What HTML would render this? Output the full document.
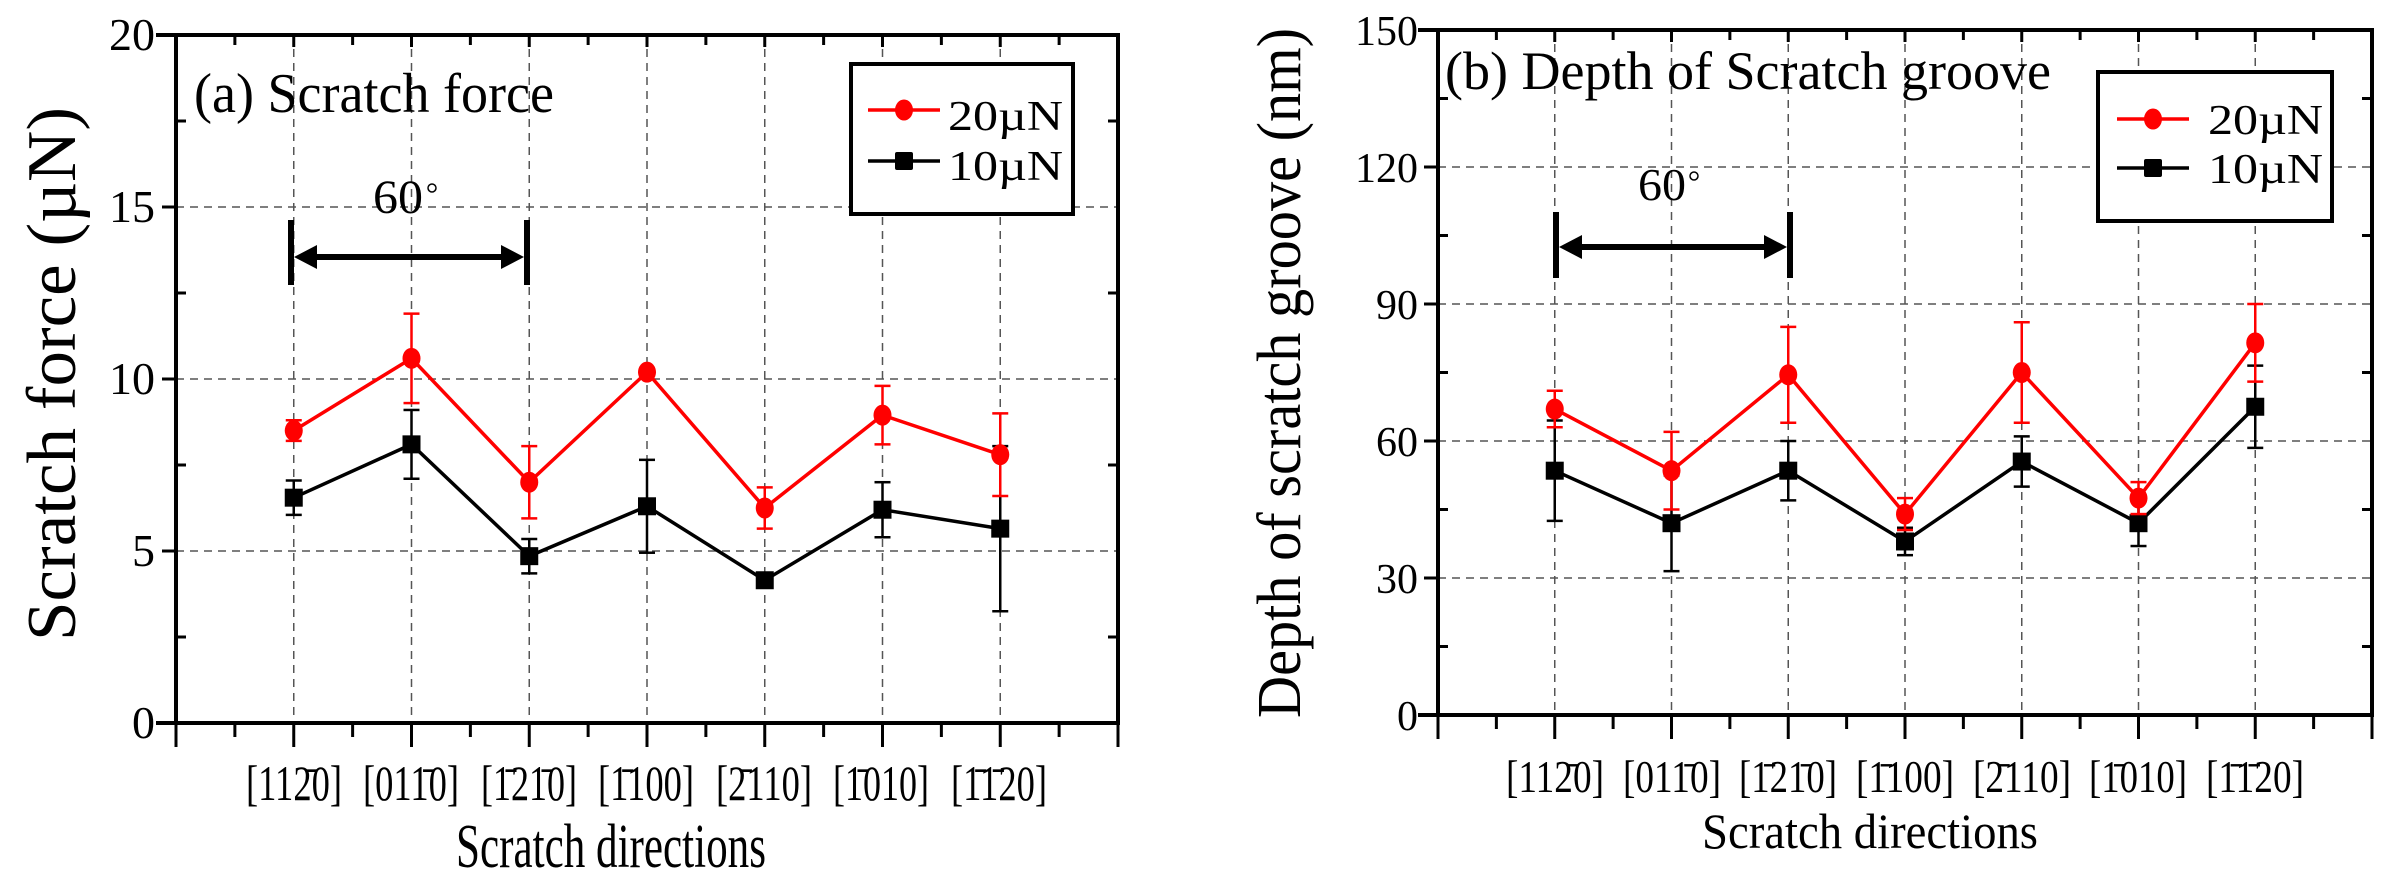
<!DOCTYPE html>
<html><head><meta charset="utf-8"><style>
html,body{margin:0;padding:0;background:#fff}
svg{display:block}
text{font-family:"Liberation Serif",serif;fill:#000}
</style></head><body>
<svg id="s" width="2393" height="887" viewBox="0 0 2393 887" xmlns="http://www.w3.org/2000/svg">
<g id="g"></g>
<!-- Left panel texts -->
<text x="194" y="112" font-size="56" textLength="360" lengthAdjust="spacingAndGlyphs">(a) Scratch force</text>
<text x="373" y="213" font-size="48" textLength="50" lengthAdjust="spacingAndGlyphs">60</text><circle cx="432" cy="188" r="4" fill="none" stroke="#000" stroke-width="1.5"/>
<g font-size="46" text-anchor="end">
<text x="155" y="50">20</text><text x="155" y="222">15</text><text x="155" y="394">10</text><text x="155" y="566">5</text><text x="155" y="738">0</text>
</g>
<text transform="translate(75,374) rotate(-90)" font-size="70" text-anchor="middle" textLength="534" lengthAdjust="spacingAndGlyphs">Scratch force (µN)</text>
<text x="611" y="867" font-size="62" text-anchor="middle" textLength="310" lengthAdjust="spacingAndGlyphs">Scratch directions</text>
<g font-size="50" text-anchor="middle">
<text x="294" y="800" textLength="96" lengthAdjust="spacingAndGlyphs">[112̄0]</text>
<text x="411" y="800" textLength="96" lengthAdjust="spacingAndGlyphs">[011̄0]</text>
<text x="529" y="800" textLength="96" lengthAdjust="spacingAndGlyphs">[1̄21̄0]</text>
<text x="646" y="800" textLength="96" lengthAdjust="spacingAndGlyphs">[1̄100]</text>
<text x="764" y="800" textLength="96" lengthAdjust="spacingAndGlyphs">[2̄110]</text>
<text x="881" y="800" textLength="96" lengthAdjust="spacingAndGlyphs">[1̄010]</text>
<text x="999" y="800" textLength="96" lengthAdjust="spacingAndGlyphs">[1̄1̄20]</text>
</g>
<text x="948" y="130" font-size="42" textLength="115" lengthAdjust="spacingAndGlyphs">20µN</text>
<text x="948" y="180" font-size="42" textLength="115" lengthAdjust="spacingAndGlyphs">10µN</text>
<!-- Right panel texts -->
<text x="1445" y="89" font-size="54" textLength="606" lengthAdjust="spacingAndGlyphs">(b) Depth of Scratch groove</text>
<text x="1638" y="200" font-size="46" textLength="48" lengthAdjust="spacingAndGlyphs">60</text><circle cx="1694" cy="176" r="4" fill="none" stroke="#000" stroke-width="1.5"/>
<g font-size="42" text-anchor="end">
<text x="1418" y="45">150</text><text x="1418" y="182">120</text><text x="1418" y="319">90</text><text x="1418" y="456">60</text><text x="1418" y="593">30</text><text x="1418" y="730">0</text>
</g>
<text transform="translate(1300,373) rotate(-90)" font-size="62" text-anchor="middle" textLength="690" lengthAdjust="spacingAndGlyphs">Depth of scratch groove (nm)</text>
<text x="1870" y="848" font-size="50" text-anchor="middle" textLength="336" lengthAdjust="spacingAndGlyphs">Scratch directions</text>
<g font-size="46" text-anchor="middle">
<text x="1555" y="792" textLength="98" lengthAdjust="spacingAndGlyphs">[112̄0]</text>
<text x="1672" y="792" textLength="98" lengthAdjust="spacingAndGlyphs">[011̄0]</text>
<text x="1788" y="792" textLength="98" lengthAdjust="spacingAndGlyphs">[1̄21̄0]</text>
<text x="1905" y="792" textLength="98" lengthAdjust="spacingAndGlyphs">[1̄100]</text>
<text x="2022" y="792" textLength="98" lengthAdjust="spacingAndGlyphs">[2̄110]</text>
<text x="2138" y="792" textLength="98" lengthAdjust="spacingAndGlyphs">[1̄010]</text>
<text x="2255" y="792" textLength="98" lengthAdjust="spacingAndGlyphs">[1̄1̄20]</text>
</g>
<text x="2208" y="134" font-size="42" textLength="115" lengthAdjust="spacingAndGlyphs">20µN</text>
<text x="2208" y="183" font-size="42" textLength="115" lengthAdjust="spacingAndGlyphs">10µN</text>
</svg>
<script>
const NS="http://www.w3.org/2000/svg",G=document.getElementById('g');
function el(t,a){const e=document.createElementNS(NS,t);for(const k in a)e.setAttribute(k,a[k]);G.appendChild(e);return e;}
function ln(x1,y1,x2,y2,c,w,d){const a={x1,y1,x2,y2,stroke:c,'stroke-width':w};if(d)a['stroke-dasharray']=d;el('line',a);}
function panel(P){
 const {L,R,T,B,ymax,ystep,minor,s20,s10,e20,e10}=P;
 const step=(R-L)/8, X=i=>L+step*(i+1), Y=v=>B-(B-T)*v/ymax;
 for(let i=0;i<7;i++) ln(X(i),T,X(i),B,'#555',1.5,'8,6');
 for(let v=ystep;v<ymax;v+=ystep) ln(L,Y(v),R,Y(v),'#555',1.5,'8,6');
 for(let k=1;k<8;k++){const x=L+step*k;
  ln(x,B,x,B+(k%1==0?24:14),'#000',3); ln(x,T,x,T+12,'#000',3);}
 for(let k=0;k<8;k++){const x=L+step*(k+0.5);ln(x,B,x,B+14,'#000',3);ln(x,T,x,T+10,'#000',3);}
 ln(L,B,L,B+24,'#000',3);ln(R,B,R,B+24,'#000',3);
 for(let v=0;v<=ymax;v+=minor){const y=Y(v);const maj=Math.abs(v/ystep-Math.round(v/ystep))<1e-6;
  ln(L-(maj?14:0),y,L+(maj?0:10),y,'#000',3); ln(R,y,R-(maj?0:10),y,'#000',3);}
 el('rect',{x:L,y:T,width:R-L,height:B-T,fill:'none',stroke:'#000','stroke-width':4});
 ln(L-20,B,L,B,'#000',4);ln(L-20,T,L,T,'#000',4);
 function series(d,e,c,sq){
  el('polyline',{points:d.map((v,i)=>X(i)+','+Y(v)).join(' '),fill:'none',stroke:c,'stroke-width':3.5});
  d.forEach((v,i)=>{const x=X(i),y1=Y(v+e[i]),y2=Y(v-e[i]);
   ln(x,y1,x,y2,c,2.5);ln(x-8,y1,x+8,y1,c,2.5);ln(x-8,y2,x+8,y2,c,2.5);
   if(sq)el('rect',{x:x-9,y:Y(v)-9,width:18,height:18,fill:c});
   else el('ellipse',{cx:x,cy:Y(v),rx:9,ry:10.5,fill:c});});
 }
 series(s10,e10,'#000',true);
 series(s20,e20,'#ff0000',false);
 const A=P.arr;
 ln(A.x1,A.t,A.x1,A.b,'#000',6);ln(A.x2,A.t,A.x2,A.b,'#000',6);
 ln(A.x1+18,A.y,A.x2-18,A.y,'#000',6);
 el('polygon',{points:`${A.x1+3},${A.y} ${A.x1+26},${A.y-12} ${A.x1+26},${A.y+12}`,fill:'#000'});
 el('polygon',{points:`${A.x2-3},${A.y} ${A.x2-26},${A.y-12} ${A.x2-26},${A.y+12}`,fill:'#000'});
 const Lg=P.leg;
 el('rect',{x:Lg.x,y:Lg.y,width:Lg.w,height:Lg.h,fill:'#fff',stroke:'#000','stroke-width':4});
 ln(Lg.l1,Lg.r20,Lg.l2,Lg.r20,'#ff0000',3.5);el('ellipse',{cx:(Lg.l1+Lg.l2)/2,cy:Lg.r20,rx:9,ry:10.5,fill:'#ff0000'});
 ln(Lg.l1,Lg.r10,Lg.l2,Lg.r10,'#000',3.5);el('rect',{x:(Lg.l1+Lg.l2)/2-9,y:Lg.r10-9,width:18,height:18,rx:2,fill:'#000'});
}
panel({L:176,R:1118,T:35,B:723,ymax:20,ystep:5,minor:2.5,
 s20:[8.5,10.6,7.0,10.2,6.25,8.95,7.8],e20:[0.3,1.3,1.05,0.1,0.6,0.85,1.2],
 s10:[6.55,8.1,4.85,6.3,4.15,6.2,5.65],e10:[0.5,1.0,0.5,1.35,0.1,0.8,2.4],
 arr:{x1:291,x2:527,t:220,b:285,y:257},
 leg:{x:851,y:64,w:222,h:150,l1:868,l2:940,r20:110,r10:161}});
panel({L:1438,R:2372,T:30,B:715,ymax:150,ystep:30,minor:15,
 s20:[67,53.5,74.5,44,75,47.5,81.5],e20:[4,8.5,10.5,3.5,11,3.5,8.5],
 s10:[53.5,42,53.5,38,55.5,42,67.5],e10:[11,10.5,6.5,3,5.5,5,9],
 arr:{x1:1556,x2:1790,t:212,b:278,y:247},
 leg:{x:2098,y:72,w:234,h:149,l1:2117,l2:2189,r20:119,r10:168}});
</script>
</body></html>
